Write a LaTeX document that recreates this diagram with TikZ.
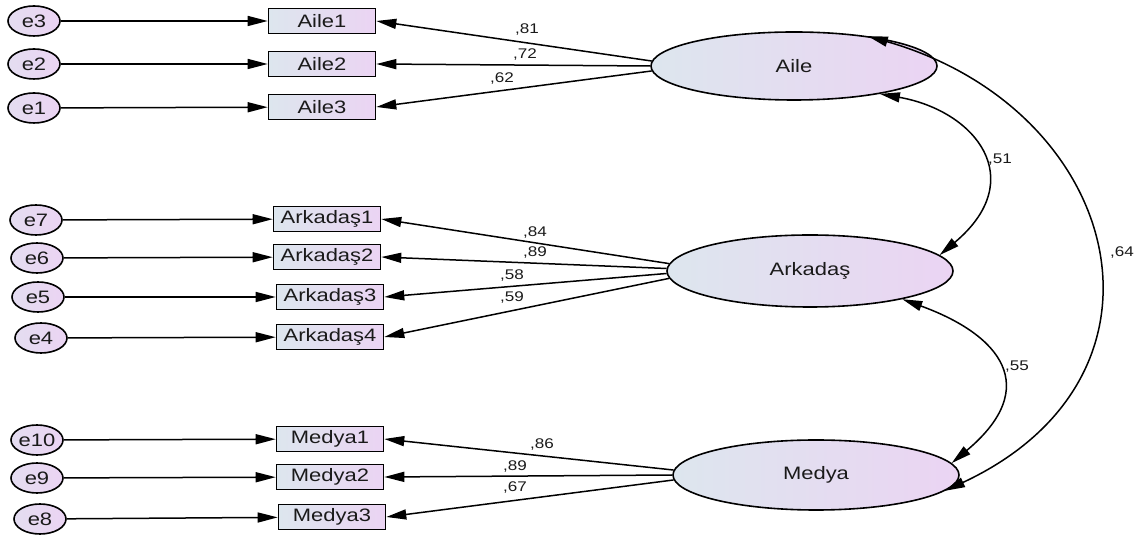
\documentclass[tikz,border=0pt]{standalone}
\usepackage{fontspec}
\setmainfont{Liberation Sans}[FakeStretch=1.22]
\usetikzlibrary{shapes.geometric,arrows.meta}
\definecolor{lblue}{HTML}{DDE6EE}
\definecolor{lpurp}{HTML}{EBD4F3}
\definecolor{txt}{HTML}{1A1A1A}
\begin{document}
\begin{tikzpicture}[x=1pt,y=1pt,
  lat/.style={ellipse,draw,line width=1.6pt,left color=lblue,right color=lpurp,
    minimum width=286pt,minimum height=70pt,inner sep=0pt,text=txt,
    font=\fontsize{18}{21}\selectfont},
  err/.style={ellipse,draw,line width=1.6pt,left color=lblue!50!lpurp,right color=lpurp,
    minimum width=52pt,minimum height=30pt,inner sep=0pt,text=txt,
    font=\fontsize{18}{21}\selectfont},
  obs/.style={rectangle,draw,line width=1.6pt,left color=lblue,right color=lpurp,
    minimum width=107pt,minimum height=25pt,inner sep=0pt,text=txt,
    font=\fontsize{18}{21}\selectfont},
  arr/.style={line width=1.5pt,-{Triangle[length=20pt,width=10pt]}},
  cov/.style={line width=1.5pt,{Triangle[length=20pt,width=10pt]}-{Triangle[length=20pt,width=10pt]}},
  lbl/.style={font=\fontsize{14}{16}\selectfont,inner sep=0pt,text=txt}]
\useasboundingbox (0,0) rectangle (1140,540);

% latent variables
\node[lat,minimum height=68pt] (aile) at (794,474) {Aile};
\node[lat,minimum height=72pt] (ark) at (810,269) {Arkadaş};
\node[lat,minimum height=70pt] (med) at (816,65) {Medya};

% observed variables
\node[obs] (a1) at (322,519) {Aile1};
\node[obs] (a2) at (322,476) {Aile2};
\node[obs] (a3) at (322,433) {Aile3};
\node[obs] (k1) at (327,321) {Arkadaş1};
\node[obs] (k2) at (327,283) {Arkadaş2};
\node[obs] (k3) at (330,243) {Arkadaş3};
\node[obs] (k4) at (330,203) {Arkadaş4};
\node[obs] (m1) at (330,101) {Medya1};
\node[obs] (m2) at (330,63) {Medya2};
\node[obs] (m3) at (332,23) {Medya3};

% error terms
\node[err] (e3) at (34,519) {e3};
\node[err] (e2) at (34,476) {e2};
\node[err] (e1) at (34,432) {e1};
\node[err] (e7) at (36,320) {e7};
\node[err] (e6) at (37,282) {e6};
\node[err] (e5) at (38,243) {e5};
\node[err] (e4) at (41,202) {e4};
\node[err] (e10) at (37,100) {e10};
\node[err] (e9) at (37,62) {e9};
\node[err] (e8) at (40,21) {e8};

% error arrows
\draw[arr] (e3) -- (a1);
\draw[arr] (e2) -- (a2);
\draw[arr] (e1) -- (a3);
\draw[arr] (e7) -- (k1);
\draw[arr] (e6) -- (k2);
\draw[arr] (e5) -- (k3);
\draw[arr] (e4) -- (k4);
\draw[arr] (e10) -- (m1);
\draw[arr] (e9) -- (m2);
\draw[arr] (e8) -- (m3);

% loadings
\draw[arr] (aile.178) -- (a1.east);
\draw[arr] (aile.180) -- (a2.east);
\draw[arr] (aile.182) -- (a3.east);
\draw[arr] (ark.177) -- (k1.east);
\draw[arr] (ark.179) -- (k2.east);
\draw[arr] (ark.181) -- (k3.east);
\draw[arr] (ark.183) -- (k4.east);
\draw[arr] (med.178) -- (m1.east);
\draw[arr] (med.180) -- (m2.east);
\draw[arr] (med.182) -- (m3.east);

% loading labels
\node[lbl] (l81) at (527,510) {,81};
\node[lbl] (l72) at (525,485) {,72};
\node[lbl] (l62) at (502,461) {,62};
\node[lbl] (l84) at (535,307) {,84};
\node[lbl] (l89a) at (535,287) {,89};
\node[lbl] (l58) at (512,264) {,58};
\node[lbl] (l59) at (512,242) {,59};
\node[lbl] (l86) at (542,95) {,86};
\node[lbl] (l89b) at (515,73) {,89};
\node[lbl] (l67) at (515,52) {,67};

% covariances
\draw[cov] (aile.-18) to[out=-10,in=40,out distance=97pt,in distance=118pt] (ark.7);
\draw[cov] (ark.-17) to[out=-20,in=40,out distance=105pt,in distance=118pt] (med.5);
\draw[cov] (aile.22) to[out=-16,in=25,out distance=265pt,in distance=272pt] (med.-7);
\node[lbl] (l51) at (1000,380) {,51};
\node[lbl] (l55) at (1017,173) {,55};
\node[lbl] (l64) at (1122,287) {,64};
\end{tikzpicture}
\end{document}
